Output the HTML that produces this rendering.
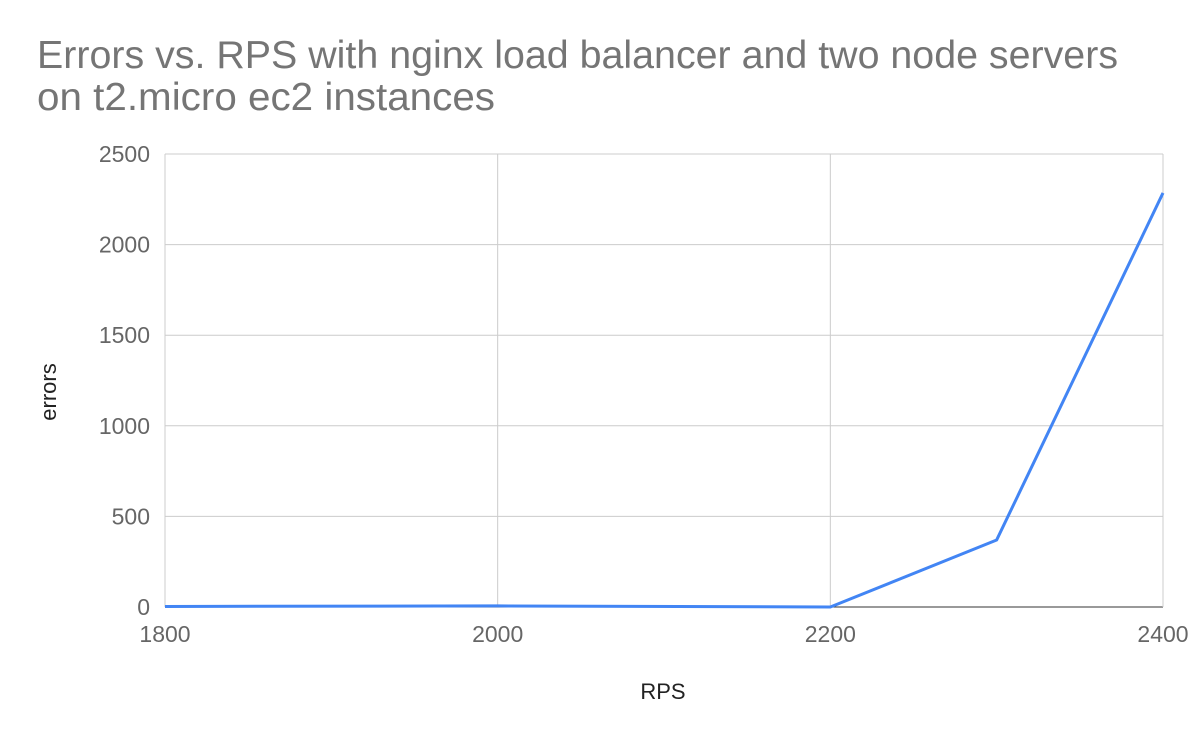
<!DOCTYPE html>
<html><head><meta charset="utf-8"><style>
body{margin:0;background:#fff;font-family:"Liberation Sans",Roboto,sans-serif}
svg text{font-family:"Liberation Sans",sans-serif}
</style></head><body>
<svg width="1200" height="742" id="c">
<text x="37" y="68" font-size="39" fill="#757575" textLength="1081" lengthAdjust="spacingAndGlyphs">Errors vs. RPS with nginx load balancer and two node servers</text>
<text x="37" y="110" font-size="39" fill="#757575" textLength="458" lengthAdjust="spacingAndGlyphs">on t2.micro ec2 instances</text>
<text x="663" y="699" font-size="22" fill="#222" text-anchor="middle">RPS</text>
<text transform="translate(56,392) rotate(-90)" font-size="22" fill="#222" text-anchor="middle">errors</text>
<g id="grid"></g><g id="marks"></g>
</svg>
<script>
const xTicks=[1800,2000,2200,2400];
const yTicks=[0,500,1000,1500,2000,2500];
const rps=[1800,2000,2200,2300,2400];
const errors=[3,6,0,370,2285];
const L=165,R=1163,T=154,B=607;
const xs=v=>L+(v-1800)/600*(R-L);
const ys=v=>B-v/2500*(B-T);
const NS="http://www.w3.org/2000/svg";
const g=document.getElementById('grid'),m=document.getElementById('marks');
function mk(t,a,p){const e=document.createElementNS(NS,t);for(const k in a)e.setAttribute(k,a[k]);p.appendChild(e);return e;}
yTicks.forEach(v=>{
 const l=mk('line',{x1:L,x2:R,y1:ys(v),y2:ys(v),stroke:v===0?'#333':'#ccc','stroke-width':1},g);
 
 
 const t=mk('text',{x:L-15,y:ys(v)+8,'font-size':23,fill:'#666','text-anchor':'end'},g);t.textContent=v;
 
 
});
xTicks.forEach(v=>{
 const l=mk('line',{x1:xs(v),x2:xs(v),y1:T,y2:B,stroke:'#ccc','stroke-width':1},g);
 
 
 const t=mk('text',{x:xs(v),y:642,'font-size':23,fill:'#666','text-anchor':'middle'},g);t.textContent=v;
 
 
});
const p=mk('polyline',{points:rps.map((r,i)=>xs(r)+','+ys(errors[i])).join(' '),fill:'none',stroke:'#4285f4','stroke-width':3,'stroke-linejoin':'round'},m);


</script>
</body></html>
